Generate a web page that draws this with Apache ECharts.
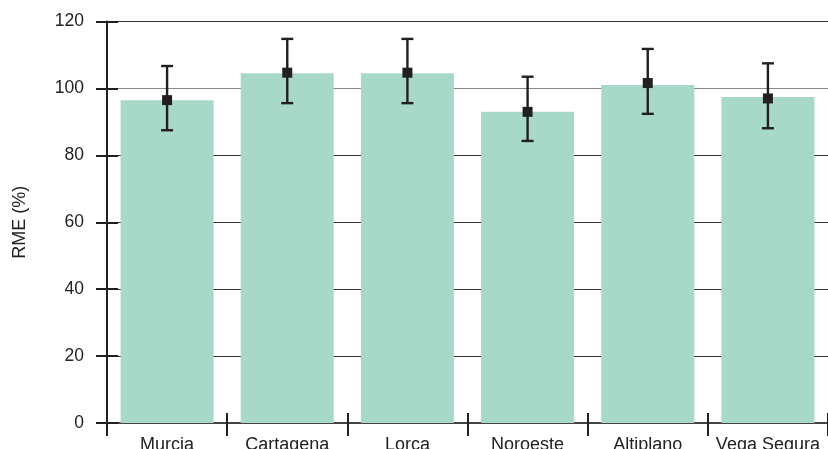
<!DOCTYPE html>
<html>
<head>
<meta charset="utf-8">
<script src="https://cdn.jsdelivr.net/npm/echarts@6/dist/echarts.min.js"></script>
<style>
  html, body { margin: 0; padding: 0; background: #fff; }
  #chart { width: 828px; height: 449px; }
</style>
</head>
<body>
<div id="chart"></div>
<script>
var regions = ['Murcia', 'Cartagena', 'Lorca', 'Noroeste', 'Altiplano', 'Vega Segura'];
var rme = [96.5, 104.5, 104.5, 93.0, 101.0, 97.4];
var rmeMean = [96.5, 104.7, 104.7, 93.0, 101.6, 97.0];
var errHigh = [106.7, 114.8, 114.8, 103.5, 111.8, 107.5];
var errLow = [87.5, 95.6, 95.6, 84.3, 92.4, 88.1];

var font = 'Liberation Sans, Arial, sans-serif';
var ink = '#231f20';

var errData = regions.map(function (r, i) {
  return [i, errHigh[i], errLow[i]];
});

var chart = echarts.init(document.getElementById('chart'));

var option = {
  animation: false,
  grid: {
    left: 107, right: 0, top: 21.5, bottom: 26,
    containLabel: false,
    outerBoundsMode: 'none'
  },
  xAxis: [
    {
      type: 'category',
      data: regions,
      boundaryGap: true,
      axisLine: { lineStyle: { color: '#444', width: 2 } },
      axisTick: { show: true, length: 13, inside: false, lineStyle: { color: ink, width: 2 } },
      axisLabel: { color: '#222', fontSize: 18, fontFamily: font, margin: 13, interval: 0 },
      splitLine: { show: false }
    },
    {
      type: 'category',
      data: regions,
      position: 'bottom',
      boundaryGap: true,
      axisLine: { show: false },
      axisTick: { show: true, length: 10, inside: true, lineStyle: { color: ink, width: 2 } },
      axisLabel: { show: false },
      splitLine: { show: false }
    }
  ],
  yAxis: [
    {
      type: 'value',
      min: 0, max: 120, interval: 20,
      name: 'RME (%)',
      nameLocation: 'middle',
      nameRotate: 90,
      nameGap: 78,
      nameTextStyle: { color: '#222', fontSize: 18, fontFamily: font },
      axisLine: { show: true, lineStyle: { color: ink, width: 2 } },
      axisTick: { show: true, length: 11, inside: false, lineStyle: { color: ink, width: 2 } },
      axisLabel: { color: '#222', fontSize: 17.5, fontFamily: font, margin: 23 },
      splitLine: {
        show: true,
        lineStyle: { color: ['#333', '#333', '#333', '#333', '#333', '#888', '#333'], width: 1.2 }
      }
    },
    {
      type: 'value',
      min: 0, max: 120, interval: 20,
      position: 'left',
      axisLine: { show: false },
      axisTick: { show: true, length: 11, inside: true, lineStyle: { color: ink, width: 2 } },
      axisLabel: { show: false },
      splitLine: { show: false }
    }
  ],
  series: [
    {
      type: 'bar',
      data: rme,
      barWidth: 93,
      itemStyle: { color: '#a8d8c8' },
      silent: true
    },
    {
      type: 'custom',
      data: errData,
      z: 5,
      renderItem: function (params, api) {
        var hi = api.coord([api.value(0), api.value(1)]);
        var lo = api.coord([api.value(0), api.value(2)]);
        var cap = 6;
        var style = { stroke: ink, lineWidth: 2.4 };
        return {
          type: 'group',
          children: [
            { type: 'line', shape: { x1: hi[0], y1: hi[1], x2: lo[0], y2: lo[1] }, style: style },
            { type: 'line', shape: { x1: hi[0] - cap, y1: hi[1], x2: hi[0] + cap, y2: hi[1] }, style: style },
            { type: 'line', shape: { x1: lo[0] - cap, y1: lo[1], x2: lo[0] + cap, y2: lo[1] }, style: style }
          ]
        };
      }
    },
    {
      type: 'scatter',
      data: rmeMean,
      symbol: 'rect',
      symbolSize: 10,
      z: 6,
      itemStyle: { color: ink, opacity: 1 }
    }
  ]
};

chart.setOption(option);
</script>
</body>
</html>
